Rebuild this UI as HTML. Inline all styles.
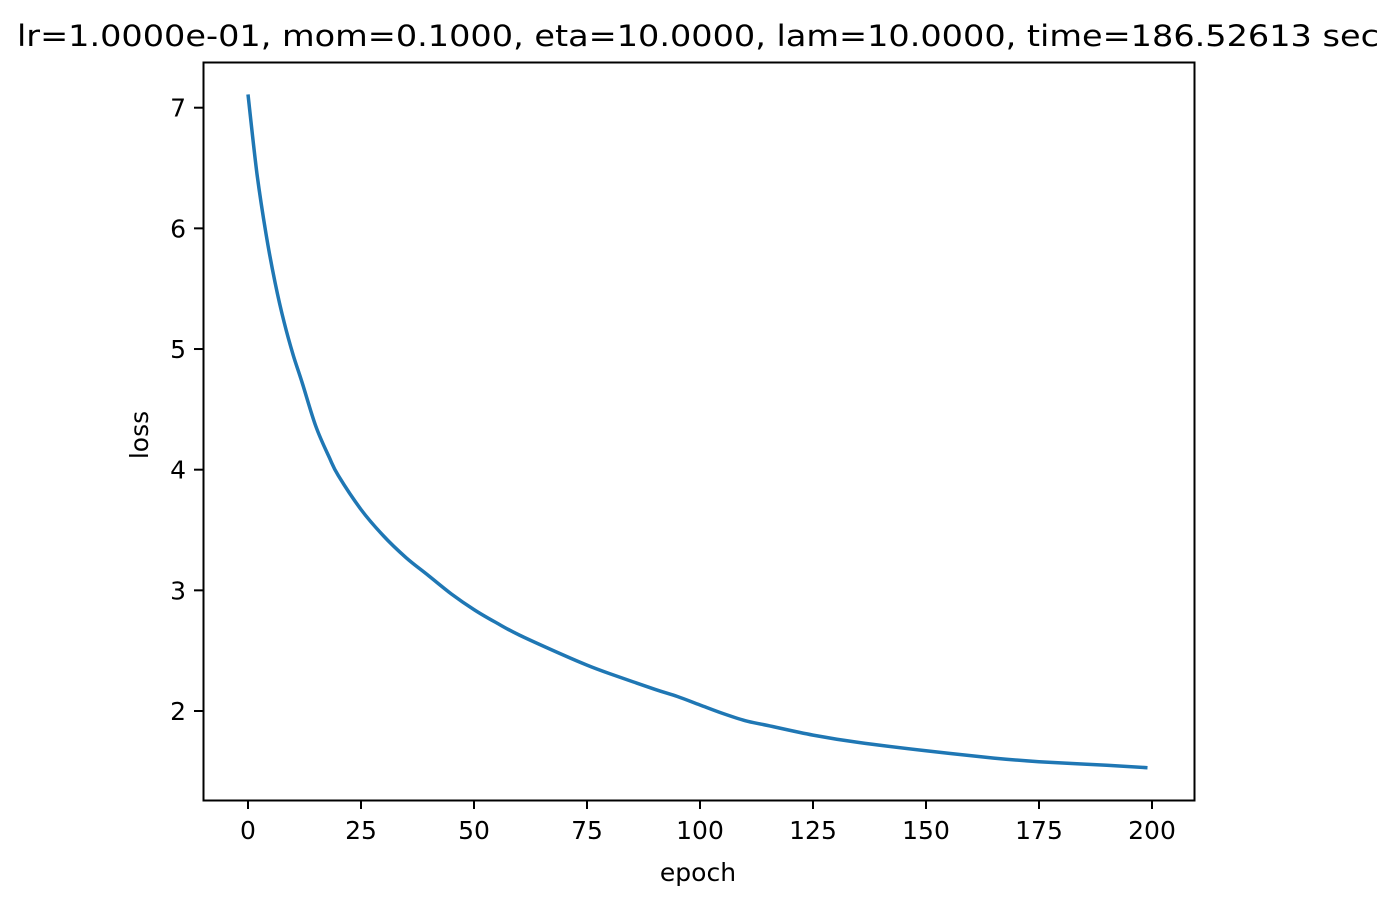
<!DOCTYPE html>
<html><head><meta charset="utf-8"><style>
html,body{margin:0;padding:0;background:#fff;}
svg{display:block;font-family:"DejaVu Sans","Liberation Sans",sans-serif;}
</style></head><body>
<svg id="chart" width="1397" height="908" viewBox="0 0 1397 908">
<text x="698" y="46" font-size="29" text-anchor="middle" textLength="1362" lengthAdjust="spacingAndGlyphs">lr=1.0000e-01, mom=0.1000, eta=10.0000, lam=10.0000, time=186.52613 sec</text>
<g id="ticks"></g>
<path id="line" fill="none" stroke="#1f77b4" stroke-width="3.5" stroke-linejoin="round" stroke-linecap="butt"/>
<rect x="203.5" y="62.5" width="991" height="738" fill="none" stroke="#000" stroke-width="2"/>
<text x="698" y="881" font-size="25" text-anchor="middle">epoch</text>
<text x="148" y="435" font-size="25" text-anchor="middle" transform="rotate(-90 148 435)">loss</text>
</svg>
<script>
const epochs = [0,2,4,6,8,10,12,15,18,20,25,30,35,40,45,50,55,60,70,75,80,90,95,100,105,110,115,125,135,150,165,175,190,199];
const losses = [7.11,6.45,5.95,5.55,5.22,4.95,4.72,4.36,4.1,3.95,3.67,3.45,3.27,3.12,2.97,2.84,2.73,2.63,2.46,2.38,2.31,2.18,2.12,2.05,1.98,1.92,1.88,1.8,1.74,1.67,1.61,1.58,1.55,1.53];
const xTicks = [0,25,50,75,100,125,150,175,200];
const yTicks = [2,3,4,5,6,7];
const X = v => 248 + (v - 0) * (1152 - 248) / 200;
const Y = v => 711 - (v - 2) * (711 - 107.7) / 5;
const NS = "http://www.w3.org/2000/svg";
const g = document.getElementById('ticks');
xTicks.forEach(t => {
  const l = document.createElementNS(NS, 'line');
  l.setAttribute('x1', X(t)); l.setAttribute('x2', X(t)); l.setAttribute('y1', 800); l.setAttribute('y2', 809);
  l.setAttribute('stroke', '#000'); l.setAttribute('stroke-width', 2);
  
  
  g.appendChild(l);
  const tx = document.createElementNS(NS, 'text');
  tx.setAttribute('x', X(t)); tx.setAttribute('y', 839); tx.setAttribute('font-size', 25); tx.setAttribute('text-anchor', 'middle');
  tx.textContent = t;
  
  
  g.appendChild(tx);
});
yTicks.forEach(t => {
  const l = document.createElementNS(NS, 'line');
  l.setAttribute('x1', 194); l.setAttribute('x2', 203); l.setAttribute('y1', Y(t)); l.setAttribute('y2', Y(t));
  l.setAttribute('stroke', '#000'); l.setAttribute('stroke-width', 2);
  
  
  g.appendChild(l);
  const tx = document.createElementNS(NS, 'text');
  tx.setAttribute('x', 186); tx.setAttribute('y', Y(t) + 9); tx.setAttribute('font-size', 25); tx.setAttribute('text-anchor', 'end');
  tx.textContent = t;
  
  
  g.appendChild(tx);
});
const pts = epochs.map((e, i) => [X(e), Y(losses[i])]);
let d = 'M' + pts[0][0].toFixed(1) + ' ' + pts[0][1].toFixed(1);
for (let i = 0; i < pts.length - 1; i++) {
  const p0 = pts[Math.max(0, i - 1)], p1 = pts[i], p2 = pts[i + 1], p3 = pts[Math.min(pts.length - 1, i + 2)];
  const c1 = [p1[0] + (p2[0] - p0[0]) / 6, p1[1] + (p2[1] - p0[1]) / 6];
  const c2 = [p2[0] - (p3[0] - p1[0]) / 6, p2[1] - (p3[1] - p1[1]) / 6];
  d += ' C' + c1.map(v => v.toFixed(1)).join(' ') + ' ' + c2.map(v => v.toFixed(1)).join(' ') + ' ' + p2.map(v => v.toFixed(1)).join(' ');
}
document.getElementById('line').setAttribute('d', d);
</script>
</body></html>
